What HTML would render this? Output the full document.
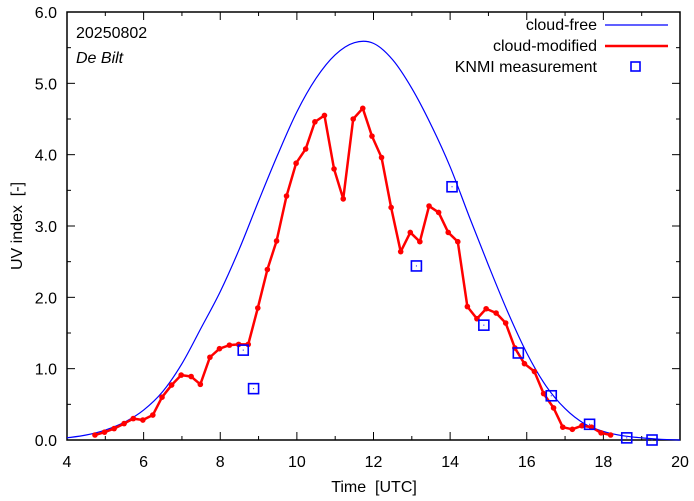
<!DOCTYPE html>
<html><head><meta charset="utf-8"><style>
body{margin:0;background:#fff}
svg{display:block;font-family:"Liberation Sans",sans-serif}
text{white-space:pre}
</style></head><body>
<svg id="chart" width="694" height="501">
<rect x="0" y="0" width="694" height="501" fill="#fff"/>
<g id="axes"></g>
<g id="series"></g>
<text x="76" y="38" font-size="16">20250802</text>
<text x="76" y="63" font-size="16" font-style="italic">De Bilt</text>
<text x="374" y="492" font-size="16" text-anchor="middle">Time  [UTC]</text>
<text transform="translate(22,226) rotate(-90)" font-size="16" text-anchor="middle">UV index  [-]</text>
<g>
<text x="597" y="30" font-size="16" text-anchor="end">cloud-free</text>
<line x1="605" y1="25" x2="668" y2="25" stroke="#0000ff" stroke-width="1.2"/>
<text x="597" y="51" font-size="16" text-anchor="end">cloud-modified</text>
<line x1="605" y1="46" x2="668" y2="46" stroke="#ff0000" stroke-width="2.5"/>
<text x="597" y="72" font-size="16" text-anchor="end">KNMI measurement</text>
<rect x="631" y="62" width="9" height="9" fill="none" stroke="#0000ff" stroke-width="1.6"/>
</g>
</svg>
<script>
const clearTimes=[4,4.5,5,5.5,6,6.5,7,7.5,8,8.5,9,9.5,10,10.5,11,11.5,12,12.5,13,13.5,14,14.5,15,15.5,16,16.5,17,17.5,18,18.5,19,19.5,20];
const clearValues=[0.03,0.07,0.14,0.25,0.42,0.68,1.07,1.57,2.08,2.68,3.35,4.00,4.60,5.07,5.40,5.57,5.56,5.33,4.93,4.42,3.83,3.13,2.45,1.80,1.22,0.76,0.44,0.23,0.12,0.06,0.03,0.01,0];
const cloudTimes=[4.73,4.98,5.23,5.49,5.73,5.98,6.24,6.48,6.73,6.98,7.24,7.48,7.73,7.98,8.24,8.48,8.73,8.98,9.23,9.47,9.73,9.98,10.23,10.47,10.72,10.97,11.21,11.47,11.72,11.96,12.21,12.46,12.71,12.96,13.21,13.45,13.70,13.95,14.20,14.45,14.70,14.94,15.20,15.45,15.69,15.94,16.20,16.44,16.70,16.94,17.19,17.44,17.69,17.94,18.19];
const cloudValues=[0.07,0.11,0.16,0.23,0.30,0.28,0.35,0.60,0.77,0.91,0.89,0.78,1.16,1.28,1.33,1.34,1.34,1.85,2.39,2.79,3.42,3.88,4.08,4.46,4.55,3.80,3.38,4.50,4.65,4.26,3.96,3.26,2.64,2.91,2.78,3.28,3.19,2.91,2.78,1.87,1.70,1.84,1.78,1.64,1.29,1.07,0.96,0.65,0.45,0.18,0.15,0.20,0.18,0.10,0.07];
const knmiTimes=[8.6,8.87,13.12,14.05,14.88,15.78,16.64,17.64,18.61,19.27];
const knmiValues=[1.26,0.72,2.44,3.55,1.61,1.22,0.62,0.22,0.03,0.0];
const xTicks=[4,6,8,10,12,14,16,18,20];
const yTicks=[0,1,2,3,4,5,6];
const yTickLabels=["0.0","1.0","2.0","3.0","4.0","5.0","6.0"];

const L=67,R=680,T=12,B=440;
const sx=t=>L+(t-4)/16*(R-L);
const sy=v=>B-v/6*(B-T);
const NS="http://www.w3.org/2000/svg";
function mk(tag,parent,attrs){const e=document.createElementNS(NS,tag);for(const k in attrs)e.setAttribute(k,attrs[k]);parent.appendChild(e);return e;}
const axes=document.getElementById('axes'),series=document.getElementById('series');

for(let t=5;t<20;t+=2){
 let a=mk('line',axes,{x1:sx(t),x2:sx(t),y1:B,y2:B-4,stroke:'#000'});
 
 
 let b=mk('line',axes,{x1:sx(t),x2:sx(t),y1:T,y2:T+4,stroke:'#000'});
 
 
}
for(let v=0.5;v<6;v+=1){
 let a=mk('line',axes,{x1:L,x2:L+4,y1:sy(v),y2:sy(v),stroke:'#000'});
 
 
 let b=mk('line',axes,{x1:R,x2:R-4,y1:sy(v),y2:sy(v),stroke:'#000'});
 
 
}
xTicks.forEach(t=>{
 let a=mk('line',axes,{x1:sx(t),x2:sx(t),y1:B,y2:B-8,stroke:'#000'});
 
 
 let b=mk('line',axes,{x1:sx(t),x2:sx(t),y1:T,y2:T+8,stroke:'#000'});
 
 
 let l=mk('text',axes,{x:sx(t),y:B+27,'font-size':16,'text-anchor':'middle'});
 l.textContent=t;
 
 
});
yTicks.forEach((v,i)=>{
 let a=mk('line',axes,{x1:L,x2:L+8,y1:sy(v),y2:sy(v),stroke:'#000'});
 
 
 let b=mk('line',axes,{x1:R,x2:R-8,y1:sy(v),y2:sy(v),stroke:'#000'});
 
 
 let l=mk('text',axes,{x:L-10,y:sy(v)+6,'font-size':16,'text-anchor':'end'});
 l.textContent=yTickLabels[i];
 
 
});
let fr=mk('rect',axes,{x:L,y:T,width:R-L,height:B-T,fill:'none',stroke:'#000','stroke-width':1.5});



const P=clearTimes.map((t,i)=>[sx(t),sy(clearValues[i])]);
let d='M'+P[0][0]+','+P[0][1];
for(let i=0;i<P.length-1;i++){
 const p0=P[Math.max(i-1,0)],p1=P[i],p2=P[i+1],p3=P[Math.min(i+2,P.length-1)];
 d+=` C${p1[0]+(p2[0]-p0[0])/6},${p1[1]+(p2[1]-p0[1])/6} ${p2[0]-(p3[0]-p1[0])/6},${p2[1]-(p3[1]-p1[1])/6} ${p2[0]},${p2[1]}`;
}
let cf=mk('path',series,{d:d,fill:'none',stroke:'#0000ff','stroke-width':1.2});



let cm=mk('polyline',series,{points:cloudTimes.map((t,i)=>sx(t)+','+sy(cloudValues[i])).join(' '),fill:'none',stroke:'#ff0000','stroke-width':2.5,'stroke-linejoin':'round'});


cloudTimes.forEach((t,i)=>{
 let c=mk('circle',series,{cx:sx(t),cy:sy(cloudValues[i]),r:2.8,fill:'#ff0000'});
 
 
});
knmiTimes.forEach((t,i)=>{
 let g=mk('g',series,{});
 
 
 mk('rect',g,{x:sx(t)-5,y:sy(knmiValues[i])-5,width:10,height:10,fill:'none',stroke:'#0000ff','stroke-width':1.6});
 mk('rect',g,{x:sx(t)-0.5,y:sy(knmiValues[i])-0.5,width:1,height:1,fill:'#0000ff'});
});
</script>
</body></html>
